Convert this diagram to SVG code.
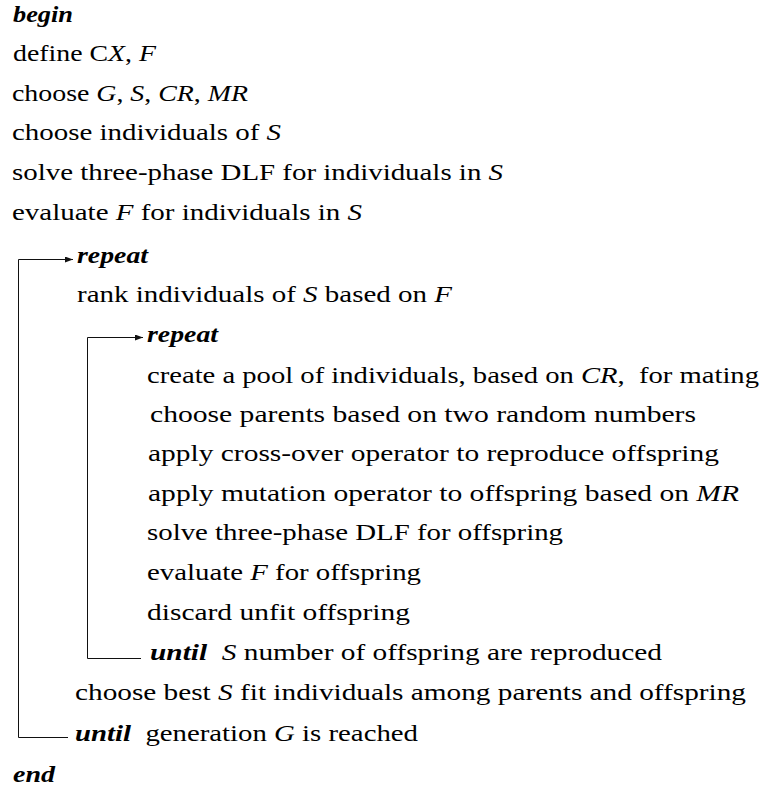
<svg xmlns="http://www.w3.org/2000/svg" width="769" height="789" viewBox="0 0 769 789">
  <style>
    .t { font-family: "Liberation Serif", "DejaVu Serif", serif; font-size: 24px; fill: #000; }
    .kw { font-weight: bold; font-style: italic; }
    .v { font-style: italic; }
    .loop { fill: none; stroke: #111; stroke-width: 1; }
  </style>
  <defs>
    <marker id="arrow" viewBox="0 0 8 6" refX="8" refY="3" markerWidth="8" markerHeight="6" markerUnits="userSpaceOnUse" orient="auto">
      <path d="M0,0 L8,3 L0,6 z" fill="#111"/>
    </marker>
  </defs>

  <!-- loop connectors -->
  <g id="connectors">
    <path id="outer-loop" class="loop" d="M68,737.5 H18.5 V259.5 H73" marker-end="url(#arrow)"/>
    <path id="inner-loop" class="loop" d="M141,658.5 H87.5 V337.5 H143" marker-end="url(#arrow)"/>
  </g>

  <g id="begin"><text class="t kw" x="13" y="22" textLength="60" lengthAdjust="spacingAndGlyphs">begin</text></g>
  <g id="define"><text class="t" x="13" y="61" textLength="143" lengthAdjust="spacingAndGlyphs">define C<tspan class="v">X</tspan>, <tspan class="v">F</tspan></text></g>
  <g id="choose-params"><text class="t" x="12" y="101" textLength="236" lengthAdjust="spacingAndGlyphs">choose <tspan class="v">G</tspan>, <tspan class="v">S</tspan>, <tspan class="v">CR</tspan>, <tspan class="v">MR</tspan></text></g>
  <g id="choose-individuals"><text class="t" x="12" y="140" textLength="269" lengthAdjust="spacingAndGlyphs">choose individuals of <tspan class="v">S</tspan></text></g>
  <g id="solve-individuals"><text class="t" x="12" y="180" textLength="491" lengthAdjust="spacingAndGlyphs">solve three-phase DLF for individuals in <tspan class="v">S</tspan></text></g>
  <g id="evaluate-individuals"><text class="t" x="12" y="220" textLength="350" lengthAdjust="spacingAndGlyphs">evaluate <tspan class="v">F</tspan> for individuals in <tspan class="v">S</tspan></text></g>

  <g id="repeat-outer"><text class="t kw" x="77" y="263" textLength="71" lengthAdjust="spacingAndGlyphs">repeat</text></g>
  <g id="rank"><text class="t" x="77" y="302" textLength="375" lengthAdjust="spacingAndGlyphs">rank individuals of <tspan class="v">S</tspan> based on <tspan class="v">F</tspan></text></g>

  <g id="repeat-inner"><text class="t kw" x="147" y="342" textLength="71" lengthAdjust="spacingAndGlyphs">repeat</text></g>
  <g id="create-pool"><text class="t" x="147" y="383" textLength="612" lengthAdjust="spacingAndGlyphs">create a pool of individuals, based on <tspan class="v">CR</tspan>,&#160; for mating</text></g>
  <g id="choose-parents"><text class="t" x="150" y="422" textLength="546" lengthAdjust="spacingAndGlyphs">choose parents based on two random numbers</text></g>
  <g id="crossover"><text class="t" x="148" y="461" textLength="571" lengthAdjust="spacingAndGlyphs">apply cross-over operator to reproduce offspring</text></g>
  <g id="mutation"><text class="t" x="148" y="501" textLength="591" lengthAdjust="spacingAndGlyphs">apply mutation operator to offspring based on <tspan class="v">MR</tspan></text></g>
  <g id="solve-offspring"><text class="t" x="147" y="540" textLength="416" lengthAdjust="spacingAndGlyphs">solve three-phase DLF for offspring</text></g>
  <g id="evaluate-offspring"><text class="t" x="147" y="580" textLength="274" lengthAdjust="spacingAndGlyphs">evaluate <tspan class="v">F</tspan> for offspring</text></g>
  <g id="discard"><text class="t" x="147" y="620" textLength="263" lengthAdjust="spacingAndGlyphs">discard unfit offspring</text></g>
  <g id="until-inner"><text class="t" x="150" y="660" textLength="512" lengthAdjust="spacingAndGlyphs"><tspan class="kw">until</tspan>&#160; <tspan class="v">S</tspan> number of offspring are reproduced</text></g>

  <g id="choose-best"><text class="t" x="75" y="700" textLength="671" lengthAdjust="spacingAndGlyphs">choose best <tspan class="v">S</tspan> fit individuals among parents and offspring</text></g>
  <g id="until-outer"><text class="t" x="75" y="741" textLength="343" lengthAdjust="spacingAndGlyphs"><tspan class="kw">until</tspan>&#160; generation <tspan class="v">G</tspan> is reached</text></g>
  <g id="end"><text class="t kw" x="13" y="782" textLength="42" lengthAdjust="spacingAndGlyphs">end</text></g>
</svg>
